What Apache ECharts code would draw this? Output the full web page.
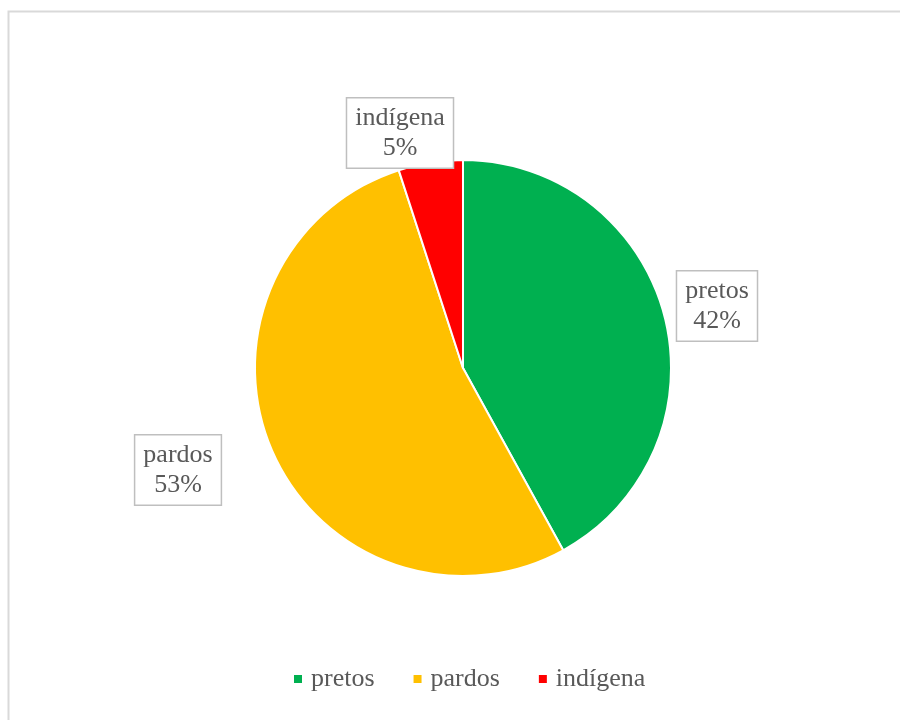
<!DOCTYPE html>
<html>
<head>
<meta charset="utf-8">
<script src="https://cdn.jsdelivr.net/npm/echarts@6/dist/echarts.min.js"></script>
<style>
html,body{margin:0;padding:0;background:#fff;}
#chart{width:900px;height:720px;}
</style>
</head>
<body>
<div id="chart"></div>
<script>
var categories = ['pretos', 'pardos', 'indígena'];
var values = [42, 53, 5];
var colors = ['#00B050', '#FFC000', '#FF0000'];

var labelPos = {
  'pretos': [717, 306],
  'pardos': [178, 470],
  'indígena': [400, 133]
};

var chart = echarts.init(document.getElementById('chart'), null, {renderer: 'canvas'});
var font = '"Liberation Serif", "Times New Roman", serif';
chart.setOption({
  animation: false,
  color: colors,
  graphic: [{
    type: 'rect',
    shape: {x: 8.5, y: 11.5, width: 1000, height: 1000},
    style: {fill: 'none', stroke: '#d9d9d9', lineWidth: 2},
    silent: true
  }],
  legend: {
    data: categories,
    left: 292,
    top: 666,
    padding: 0,
    icon: 'rect',
    itemWidth: 10,
    itemHeight: 10,
    itemGap: 37,
    textStyle: {fontFamily: font, fontSize: 26, color: '#595959', padding: [0, 0, 0, 3]}
  },
  series: [{
    type: 'pie',
    center: [463, 368],
    radius: 208,
    startAngle: 90,
    clockwise: true,
    itemStyle: {borderColor: '#ffffff', borderWidth: 2},
    labelLine: {show: false},
    label: {
      show: true,
      position: 'outside',
      formatter: function (p) { return p.name + '\n' + Math.round(p.percent) + '%'; },
      fontFamily: font,
      fontSize: 26,
      lineHeight: 30,
      color: '#595959',
      backgroundColor: '#ffffff',
      borderColor: '#bfbfbf',
      borderWidth: 1.5,
      padding: [5, 8, 4, 8],
      align: 'center'
    },
    labelLayout: function (params) {
      var name = categories[params.dataIndex];
      var pos = labelPos[name];
      return {x: pos[0], y: pos[1], align: 'center', verticalAlign: 'middle'};
    },
    emphasis: {disabled: true},
    data: categories.map(function (c, i) { return {name: c, value: values[i]}; })
  }]
});
</script>
</body>
</html>
